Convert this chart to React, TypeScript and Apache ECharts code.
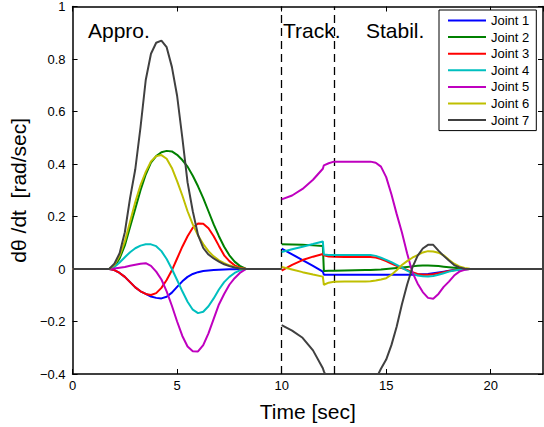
import React, { useEffect, useRef } from "react";
import * as echarts from "echarts";

// Approach phase time grid [sec]
const tApproach = [0, 1.75, 2.0, 2.25, 2.5, 2.75, 3.0, 3.25, 3.5, 3.75, 4.0, 4.25, 4.5, 4.75, 5.0, 5.25, 5.5, 5.75, 6.0, 6.25, 6.5, 6.75, 7.0, 7.25, 7.5, 7.75, 8.0, 8.3, 10.0];
const j1Approach = [0, 0, -0.004, -0.015, -0.03, -0.05, -0.07, -0.085, -0.095, -0.105, -0.11, -0.112, -0.106, -0.09, -0.068, -0.047, -0.03, -0.019, -0.012, -0.008, -0.006, -0.004, -0.003, -0.002, -0.001, -0.001, 0, 0, 0];
const j2Approach = [0, 0, 0.01, 0.04, 0.09, 0.16, 0.23, 0.3, 0.36, 0.405, 0.43, 0.445, 0.45, 0.448, 0.435, 0.415, 0.39, 0.355, 0.315, 0.27, 0.22, 0.17, 0.125, 0.085, 0.052, 0.028, 0.012, 0, 0];
const j3Approach = [0, 0, -0.004, -0.015, -0.03, -0.05, -0.07, -0.085, -0.095, -0.099, -0.092, -0.072, -0.042, -0.005, 0.04, 0.085, 0.125, 0.157, 0.173, 0.172, 0.155, 0.125, 0.088, 0.052, 0.03, 0.014, 0.005, 0, 0];
const j4Approach = [0, 0, 0.008, 0.025, 0.045, 0.064, 0.079, 0.089, 0.094, 0.094, 0.087, 0.068, 0.038, 0.0, -0.042, -0.085, -0.125, -0.155, -0.168, -0.163, -0.142, -0.112, -0.078, -0.05, -0.03, -0.015, -0.005, 0, 0];
const j5Approach = [0, 0, 0.002, 0.005, 0.008, 0.012, 0.016, 0.02, 0.022, 0.012, -0.01, -0.04, -0.085, -0.14, -0.2, -0.255, -0.295, -0.313, -0.314, -0.29, -0.245, -0.19, -0.135, -0.095, -0.06, -0.035, -0.015, 0, 0];
const j6Approach = [0, 0, 0.015, 0.05, 0.105, 0.18, 0.255, 0.32, 0.37, 0.41, 0.43, 0.434, 0.42, 0.385, 0.335, 0.28, 0.22, 0.17, 0.128, 0.095, 0.068, 0.048, 0.033, 0.022, 0.014, 0.008, 0.003, 0, 0];
const j7Approach = [0, 0, 0.02, 0.06, 0.14, 0.27, 0.38, 0.54, 0.72, 0.82, 0.862, 0.87, 0.845, 0.77, 0.66, 0.5, 0.33, 0.22, 0.13, 0.08, 0.055, 0.04, 0.028, 0.018, 0.011, 0.006, 0.002, 0, 0];

// Tracking + stabilization phase time grid [sec]
const tTrack = [10, 10.5, 11, 11.5, 11.97, 12.02, 12.25, 12.5, 13, 13.5, 14, 14.25, 14.5, 14.75, 15, 15.25, 15.5, 15.75, 16, 16.25, 16.5, 16.75, 17, 17.25, 17.5, 17.75, 18, 18.25, 18.5, 18.75, 19, 20, 22.5];
const j1Track = [0.078, 0.056, 0.034, 0.012, -0.01, -0.022, -0.022, -0.022, -0.022, -0.022, -0.022, -0.022, -0.022, -0.022, -0.022, -0.022, -0.022, -0.022, -0.022, -0.022, -0.021, -0.02, -0.019, -0.016, -0.013, -0.01, -0.007, -0.004, -0.002, -0.001, 0, 0, 0];
const j2Track = [0.094, 0.093, 0.092, 0.09, 0.088, -0.008, -0.007, -0.007, -0.006, -0.005, -0.004, -0.004, -0.003, -0.002, 0.0, 0.002, 0.004, 0.006, 0.008, 0.01, 0.012, 0.013, 0.013, 0.012, 0.011, 0.009, 0.007, 0.005, 0.003, 0.001, 0, 0, 0];
const j3Track = [-0.006, 0.016, 0.034, 0.047, 0.057, 0.052, 0.048, 0.047, 0.046, 0.046, 0.046, 0.046, 0.044, 0.038, 0.03, 0.021, 0.012, 0.004, -0.004, -0.012, -0.019, -0.022, -0.022, -0.02, -0.016, -0.012, -0.008, -0.005, -0.002, -0.001, 0, 0, 0];
const j4Track = [0.065, 0.075, 0.085, 0.095, 0.105, 0.055, 0.053, 0.053, 0.053, 0.053, 0.053, 0.053, 0.05, 0.043, 0.035, 0.026, 0.016, 0.005, -0.006, -0.016, -0.025, -0.028, -0.029, -0.027, -0.022, -0.016, -0.01, -0.006, -0.003, -0.001, 0, 0, 0];
const j5Track = [0.265, 0.28, 0.305, 0.34, 0.382, 0.395, 0.403, 0.409, 0.409, 0.409, 0.409, 0.409, 0.405, 0.39, 0.35, 0.285, 0.21, 0.14, 0.06, -0.012, -0.055, -0.088, -0.11, -0.113, -0.095, -0.068, -0.048, -0.025, -0.01, -0.003, 0, 0, 0];
const j6Track = [0.008, -0.002, -0.012, -0.021, -0.029, -0.06, -0.052, -0.049, -0.048, -0.048, -0.048, -0.047, -0.044, -0.04, -0.035, -0.022, -0.005, 0.015, 0.03, 0.043, 0.053, 0.063, 0.068, 0.067, 0.062, 0.052, 0.035, 0.02, 0.01, 0.004, 0.001, 0, 0];
const j7Track = [-0.214, -0.235, -0.262, -0.31, -0.378, -0.39, -0.43, -0.47, -0.53, -0.555, -0.53, -0.49, -0.42, -0.38, -0.345, -0.29, -0.22, -0.135, -0.06, 0.005, 0.05, 0.078, 0.092, 0.092, 0.07, 0.05, 0.032, 0.015, 0.006, 0.001, 0, 0, 0];

const jointNames = ["Joint 1", "Joint 2", "Joint 3", "Joint 4", "Joint 5", "Joint 6", "Joint 7"];
const jointColors = ["#0000ff", "#008000", "#ff0000", "#00bfbf", "#bf00bf", "#bfbf00", "#404040"];
const approachValues = [j1Approach, j2Approach, j3Approach, j4Approach, j5Approach, j6Approach, j7Approach];
const trackValues = [j1Track, j2Track, j3Track, j4Track, j5Track, j6Track, j7Track];
const phaseLines = [10, 12.5];
const phaseLabels = ["Appro.", "Track.", "Stabil."];

const FONT = "Liberation Sans, Arial, Helvetica, sans-serif";

export default function App() {
  const ref = useRef<HTMLDivElement>(null);
  useEffect(() => {
    if (!ref.current) return;
    const chart = echarts.init(ref.current, undefined, { renderer: "svg" });
    const fmt = (v: number) => {
      const r = Math.round(v * 10) / 10;
      if (r === 0) return "0";
      return String(r).replace("-", "\u2212");
    };
    const series: any[] = jointNames.map((name, k) => {
      const data: any[] = tApproach.map((t, i) => [t, approachValues[k][i]]);
      data.push([10, null]);
      tTrack.forEach((t, i) => data.push([t, trackValues[k][i]]));
      return {
        name,
        type: "line",
        data,
        symbol: "none",
        connectNulls: false,
        color: jointColors[k],
        lineStyle: { width: 2, color: jointColors[k] },
        clip: true,
        z: 2 + k,
      };
    });
    series.push({
      name: "phases",
      type: "line",
      data: [],
      z: 20,
      markLine: {
        silent: true,
        symbol: ["none", "none"],
        label: { show: false },
        lineStyle: { color: "#000", type: [8, 5], width: 1.3 },
        data: phaseLines.map((x) => ({ xAxis: x })),
      },
    });
    const axisCommon = {
      axisLine: { show: true, onZero: false, lineStyle: { color: "#000", width: 1.5 } },
      axisTick: { show: true, inside: true, length: 5, lineStyle: { color: "#000", width: 1 } },
      splitLine: { show: false },
    };
    chart.setOption({
      animation: false,
      backgroundColor: "#fff",
      textStyle: { fontFamily: FONT },
      grid: { left: 70, top: 4, width: 473, height: 373 },
      legend: {
        data: jointNames,
        orient: "vertical",
        left: 439,
        top: 10,
        padding: [4, 7, 4, 8],
        itemWidth: 38,
        itemHeight: 14,
        itemGap: 3.6,
        borderColor: "#000",
        borderWidth: 1,
        backgroundColor: "#fff",
        itemStyle: { opacity: 0 },
        lineStyle: { width: 2 },
        textStyle: { fontSize: 13, fontFamily: FONT, color: "#000" },
      },
      xAxis: [
        {
          type: "value",
          min: 0,
          max: 22.5,
          interval: 5,
          position: "bottom",
          ...axisCommon,
          axisLabel: { fontSize: 13, color: "#000", margin: 5, showMaxLabel: false, fontFamily: FONT },
          name: "Time [sec]",
          nameLocation: "middle",
          nameGap: 27,
          nameTextStyle: { fontSize: 21, color: "#000", fontFamily: FONT },
        },
        {
          type: "value",
          min: 0,
          max: 22.5,
          interval: 5,
          position: "top",
          ...axisCommon,
          axisLabel: { show: false },
        },
      ],
      yAxis: [
        {
          type: "value",
          min: -0.4,
          max: 1,
          interval: 0.2,
          position: "left",
          ...axisCommon,
          axisLabel: { fontSize: 13, color: "#000", margin: 7, formatter: fmt, fontFamily: FONT },
          name: "d\u03b8 /dt  [rad/sec]",
          nameLocation: "middle",
          nameGap: 36,
          nameTextStyle: { fontSize: 21, color: "#000", fontFamily: FONT },
        },
        {
          type: "value",
          min: -0.4,
          max: 1,
          interval: 0.2,
          position: "right",
          ...axisCommon,
          axisLabel: { show: false },
        },
      ],
      graphic: [
        { type: "text", left: 88, top: 20, style: { text: phaseLabels[0], fontSize: 21, fill: "#000", fontFamily: FONT } },
        { type: "text", left: 283, top: 20, style: { text: phaseLabels[1], fontSize: 21, fill: "#000", fontFamily: FONT } },
        { type: "text", left: 366, top: 20, style: { text: phaseLabels[2], fontSize: 21, fill: "#000", fontFamily: FONT } },
      ],
      series,
    });
    return () => chart.dispose();
  }, []);
  return (
    <div
      ref={ref}
      style={{ position: "fixed", left: 0, top: 0, width: 544, height: 427, background: "#fff" }}
    />
  );
}
